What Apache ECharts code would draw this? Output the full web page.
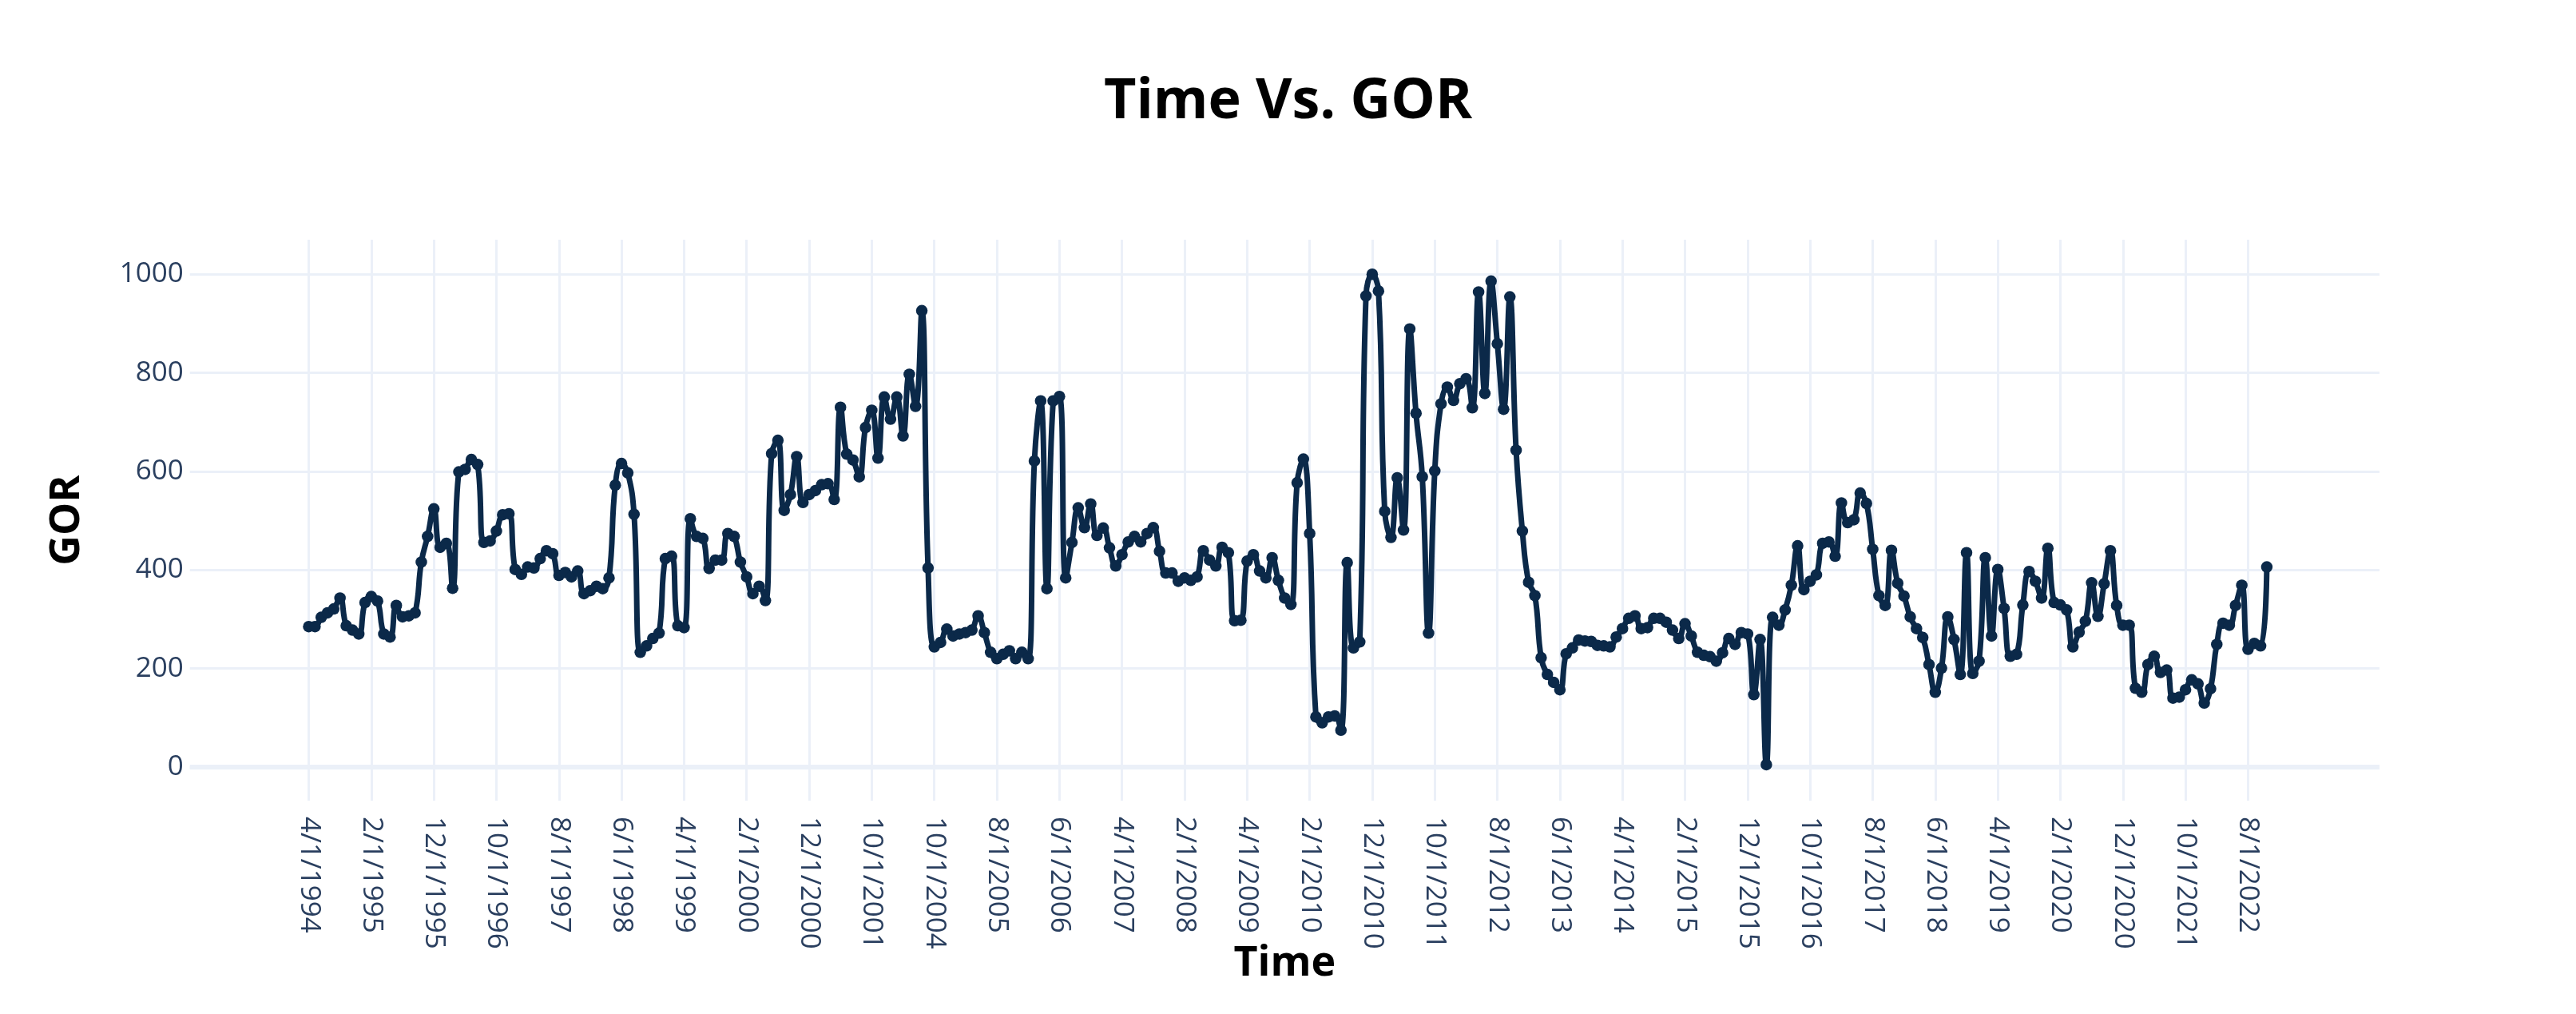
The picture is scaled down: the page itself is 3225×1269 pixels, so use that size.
<!DOCTYPE html>
<html>
<head>
<meta charset="utf-8">
<script src="https://cdn.jsdelivr.net/npm/echarts@6/dist/echarts.min.js"></script>
<style>
html,body{margin:0;padding:0;background:#fff;}
#c{width:3225px;height:1269px;}
</style>
</head>
<body>
<div id="c"></div>
<script>
// Monthly sampling periods (data has gaps between periods)
const periods = [['4/1994', '6/2002'], ['9/2004', '7/2008'], ['12/2008', '11/2022']];

// GOR values, one per month in the periods above
const gor1994_1997 = [285, 285, 304, 313, 321, 343, 287, 278, 270, 334, 346, 337, 270, 264, 328, 305, 307, 313, 416, 468, 524, 446, 454, 363, 599, 604, 624, 614, 456, 459, 479, 512, 514, 401, 391];
const gor1997_2000 = [406, 404, 423, 439, 433, 389, 395, 386, 398, 352, 358, 367, 362, 384, 572, 616, 597, 513, 233, 246, 261, 272, 423, 428, 287, 283, 504, 468, 464, 403, 420, 420, 474, 468, 416];
const gor2000_2005 = [386, 352, 367, 338, 636, 663, 521, 553, 630, 537, 553, 561, 573, 575, 543, 730, 635, 623, 589, 689, 724, 627, 751, 706, 751, 672, 797, 732, 926, 404, 244, 253, 280, 266, 270, 273, 278, 307];
const gor2005_2008 = [273, 233, 220, 229, 236, 220, 233, 220, 621, 743, 362, 743, 752, 384, 456, 526, 486, 534, 470, 485, 445, 408, 431, 457, 468, 457, 474, 486, 438, 394, 394, 377, 384, 379, 386];
const gor2008_2011 = [439, 420, 408, 446, 435, 297, 298, 418, 431, 398, 384, 425, 379, 343, 330, 577, 625, 474, 102, 90, 102, 104, 75, 415, 242, 254, 956, 1000, 966, 519, 466, 587, 481, 889, 718];
const gor2011_2014 = [589, 272, 601, 737, 771, 744, 778, 788, 729, 964, 758, 986, 859, 726, 954, 643, 479, 375, 348, 222, 188, 172, 157, 230, 242, 258, 256, 255, 247, 246, 244, 264, 281, 302, 307, 281];
const gor2014_2017 = [283, 302, 302, 294, 278, 261, 291, 266, 233, 227, 224, 215, 232, 261, 249, 273, 270, 147, 259, 5, 304, 288, 319, 369, 449, 360, 377, 390, 454, 457, 428, 536, 496, 502, 556, 535];
const gor2017_2020 = [442, 348, 328, 440, 373, 347, 305, 281, 263, 208, 152, 201, 305, 259, 188, 435, 190, 215, 425, 266, 401, 322, 225, 229, 329, 397, 377, 343, 444, 334, 329, 319, 244, 274, 296, 374];
const gor2020_2022 = [306, 372, 439, 328, 288, 288, 160, 152, 208, 225, 192, 197, 140, 142, 157, 177, 169, 130, 159, 249, 292, 288, 328, 369, 239, 251, 246, 406];

const yTicks = [0, 200, 400, 600, 800, 1000];
const labelEvery = 10;

function monthLabels(from, to) {
  const [m0, y0] = from.split('/').map(Number);
  const [m1, y1] = to.split('/').map(Number);
  const out = [];
  let m = m0, y = y0;
  while (y < y1 || (y === y1 && m <= m1)) {
    out.push(m + '/1/' + y);
    m++; if (m > 12) { m = 1; y++; }
  }
  return out;
}
const dates = periods.flatMap(p => monthLabels(p[0], p[1]));
const gor = [].concat(gor1994_1997, gor1997_2000, gor2000_2005, gor2005_2008, gor2008_2011,
                      gor2011_2014, gor2014_2017, gor2017_2020, gor2020_2022);

// empty categories on both sides reproduce the axis range of the original
const PAD_L = 19, PAD_R = 18;
const cats = [].concat(
  Array.from({length: PAD_L}, (_, k) => 'padL' + k),
  dates,
  Array.from({length: PAD_R}, (_, k) => 'padR' + k));
function isTick(index) {
  const r = index - PAD_L;
  return r >= 0 && r < dates.length && r % labelEvery === 0;
}

const GRID = '#EBF0F8';
const LINE = '#0b2949';
const chart = echarts.init(document.getElementById('c'), null, {renderer: 'canvas'});
chart.setOption({
  animation: false,
  backgroundColor: '#ffffff',
  textStyle: {fontFamily: 'Open Sans'},
  title: {
    text: 'Time Vs. GOR',
    left: 'center',
    top: 88,
    textStyle: {fontFamily: 'Open Sans', fontSize: 70, fontWeight: 'bold', color: '#000'}
  },
  grid: {left: 237.7, right: 246.1, top: 300, bottom: 267, containLabel: false},
  xAxis: {
    type: 'category',
    data: cats,
    boundaryGap: false,
    name: 'Time',
    nameLocation: 'middle',
    nameGap: 178,
    nameMoveOverlap: false,
    nameTextStyle: {fontFamily: 'Open Sans', fontSize: 52, fontWeight: 'bold', color: '#000'},
    axisLine: {show: false},
    axisTick: {show: false},
    axisLabel: {
      interval: (i) => isTick(i),
      rotate: -90,
      margin: 20,
      fontSize: 35,
      color: '#2a3f5f',
      fontFamily: 'Open Sans'
    },
    splitLine: {show: true, interval: (i) => isTick(i), lineStyle: {color: GRID, width: 2.9}}
  },
  yAxis: {
    type: 'value',
    min: -68,
    max: 1070,
    splitNumber: 5,
    name: 'GOR',
    nameLocation: 'middle',
    nameGap: 128,
    nameMoveOverlap: false,
    nameTextStyle: {fontFamily: 'Open Sans', fontSize: 52, fontWeight: 'bold', color: '#000'},
    axisLine: {show: false},
    axisTick: {show: false},
    axisLabel: {
      fontSize: 35, color: '#2a3f5f', margin: 8, fontFamily: 'Open Sans',
      formatter: (v) => yTicks.indexOf(v) >= 0 ? String(v) : ''
    },
    splitLine: {
      show: true,
      lineStyle: {
        color: ['rgba(0,0,0,0)', GRID, GRID, GRID, GRID, GRID, GRID, 'rgba(0,0,0,0)'],
        width: 2.9
      }
    }
  },
  series: [
    {
      type: 'line',
      data: [],
      z: 1,
      silent: true,
      markLine: {
        z: 1,
        silent: true,
        symbol: ['none', 'none'],
        label: {show: false},
        lineStyle: {type: 'solid', color: GRID, width: 5.8},
        data: [{yAxis: 0}]
      }
    },
    {
      type: 'line',
      z: 3,
      data: dates.map((d, i) => [d, gor[i]]),
      smooth: 0.45,
      showAllSymbol: true,
      symbol: 'circle',
      symbolSize: 14.5,
      lineStyle: {width: 7, color: LINE},
      itemStyle: {color: LINE}
    }
  ]
});
</script>
</body>
</html>
